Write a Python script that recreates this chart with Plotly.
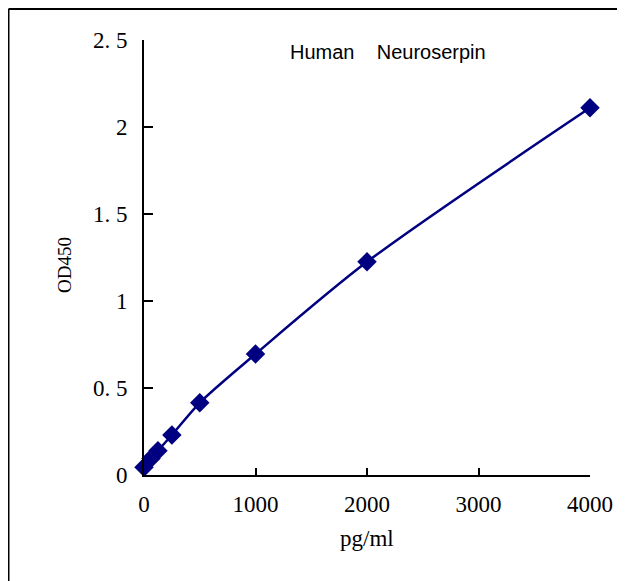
import plotly.graph_objects as go

conc = [0, 62.5, 125, 250, 500, 1000, 2000, 4000]
od = [0.045, 0.095, 0.14, 0.23, 0.415, 0.695, 1.225, 2.11]

y_tickvals = [0, 0.5, 1, 1.5, 2, 2.5]
y_ticktext = ["0", "0. 5", "1", "1. 5", "2", "2. 5"]
x_tickvals = [0, 1000, 2000, 3000, 4000]
x_ticktext = ["0", "1000", "2000", "3000", "4000"]

title_text = "Human&nbsp;&nbsp;&nbsp;&nbsp;Neuroserpin"
x_title = "pg/ml"
y_title = "OD450"
serif = "Liberation Serif, DejaVu Serif, serif"

# page body has an 8px margin; figure coordinates are screen - 8
OFF = 8
W, H = 625 - OFF, 581 - OFF
PX0, PX1, PY0, PY1 = 144, 590, 40, 475  # plot area in screen px
L, T = PX0 - OFF, PY0 - OFF
R, B = W - (PX1 - OFF), H - (PY1 - OFF)
pw, ph = PX1 - PX0, PY1 - PY0


def px(sx):
    return (sx - PX0) / pw


def py(sy):
    return (PY1 - sy) / ph


fig = go.Figure()
fig.add_trace(go.Scatter(
    x=conc, y=od, mode="lines+markers",
    line=dict(color="#000080", width=2.5, shape="spline", smoothing=0.8),
    marker=dict(symbol="diamond", size=15, color="#000080"),
    showlegend=False, cliponaxis=False,
))

fig.update_layout(
    width=W, height=H,
    margin=dict(l=L, r=R, t=T, b=B, pad=0),
    paper_bgcolor="white", plot_bgcolor="white",
    xaxis=dict(
        range=[0, 4000], tickvals=x_tickvals, ticktext=x_ticktext,
        ticks="inside", ticklen=7, tickwidth=2, tickcolor="black",
        showline=True, linecolor="black", linewidth=2,
        showgrid=False, zeroline=False,
        tickfont=dict(family=serif, size=23, color="black"),
        ticklabelstandoff=7,
    ),
    yaxis=dict(
        range=[0, 2.5], tickvals=y_tickvals, ticktext=y_ticktext,
        ticks="inside", ticklen=9, tickwidth=2, tickcolor="black",
        showline=True, linecolor="black", linewidth=2,
        showgrid=False, zeroline=False,
        tickfont=dict(family=serif, size=23, color="black"),
        ticklabelstandoff=10,
    ),
)

fig.add_annotation(
    text=title_text, xref="paper", yref="paper",
    x=px(387.5), y=py(52), showarrow=False, xanchor="center", yanchor="middle",
    font=dict(family="Liberation Sans, Arial, sans-serif", size=20, color="black"),
)
fig.add_annotation(
    text=x_title, xref="paper", yref="paper",
    x=px(367), y=py(538), showarrow=False, xanchor="center", yanchor="middle",
    font=dict(family=serif, size=23, color="black"),
)
fig.add_annotation(
    text=y_title, xref="paper", yref="paper",
    x=px(64), y=py(265), showarrow=False, xanchor="center", yanchor="middle",
    textangle=-90,
    font=dict(family=serif, size=19, color="black"),
)

# outer frame lines (left and top)
fig.add_shape(type="line", xref="paper", yref="paper",
              x0=px(8.5), x1=px(8.5), y0=py(9), y1=py(700), line=dict(color="black", width=2))
fig.add_shape(type="line", xref="paper", yref="paper",
              x0=px(8.5), x1=px(700), y0=py(9), y1=py(9), line=dict(color="black", width=2))

fig.write_html("out.html")
